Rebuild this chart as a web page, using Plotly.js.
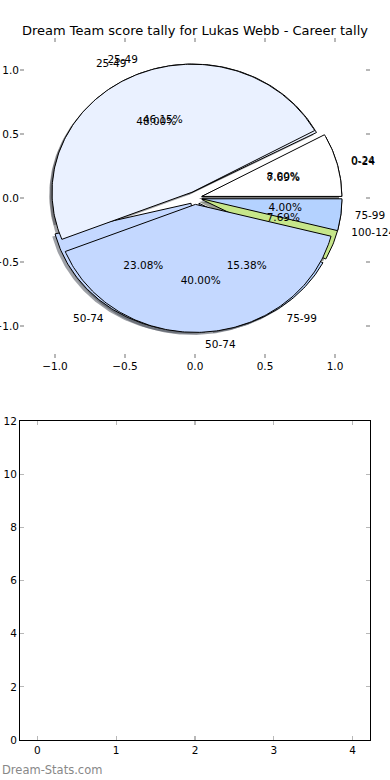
<!DOCTYPE html>
<html>
<head>
<meta charset="utf-8">
<script src="https://cdn.plot.ly/plotly-3.0.1.min.js"></script>
<style>html,body{margin:0;padding:0;background:#fff;}#chart{width:390px;height:780px;}</style>
</head>
<body>
<div id="chart"></div>
<script>
// ---- data ----
const chartTitle = 'Dream Team score tally for Lukas Webb - Career tally';
const categories1 = ['0-24', '25-49', '50-74', '75-99', '100-124'];
const counts1 = [1, 6, 3, 2, 1];
const categories2 = ['0-24', '25-49', '50-74', '75-99'];
const counts2 = [2, 12, 10, 1];
const pieTickVals = [-1.0, -0.5, 0.0, 0.5, 1.0];
const pieTickText = ['\u22121.0', '\u22120.5', '0.0', '0.5', '1.0'];
const barXTicks = [0, 1, 2, 3, 4];
const barYTicks = [0, 2, 4, 6, 8, 10, 12];
const watermark = 'Dream-Stats.com';

// ---- styles ----
const sliceColors = {'0-24': '#ffffff', '25-49': '#eaf1ff', '50-74': '#c4d8ff', '75-99': '#b4d2ff', '100-124': '#c6e68a'};
const explode = 0.05;
const FONT = 'DejaVu Sans, Liberation Sans, sans-serif';

function hexToRgb(h) {
  return [parseInt(h.slice(1, 3), 16), parseInt(h.slice(3, 5), 16), parseInt(h.slice(5, 7), 16)];
}

function buildPie(cats, vals) {
  const total = vals.reduce((a, b) => a + b, 0);
  let start = 0;
  const wedges = [];
  cats.forEach((c, i) => {
    const span = vals[i] / total * 360;
    const a1 = start, a2 = start + span;
    const mid = (a1 + a2) / 2 * Math.PI / 180;
    const cx = explode * Math.cos(mid), cy = explode * Math.sin(mid);
    const xs = [cx], ys = [cy];
    const n = Math.max(2, Math.ceil(span));
    for (let k = 0; k <= n; k++) {
      const a = (a1 + (a2 - a1) * k / n) * Math.PI / 180;
      xs.push(cx + Math.cos(a));
      ys.push(cy + Math.sin(a));
    }
    xs.push(cx); ys.push(cy);
    wedges.push({
      cat: c, xs, ys,
      lx: cx + 1.1 * Math.cos(mid), ly: cy + 1.1 * Math.sin(mid),
      px: cx + 0.6 * Math.cos(mid), py: cy + 0.6 * Math.sin(mid),
      pct: (vals[i] / total * 100).toFixed(2) + '%'
    });
    start = a2;
  });
  return wedges;
}

const pies = [buildPie(categories1, counts1), buildPie(categories2, counts2)];
const traces = [];

// shadows (beneath everything)
pies.forEach(p => p.forEach(w => {
  const rgb = hexToRgb(sliceColors[w.cat]).map(v => Math.round(v * 0.3));
  traces.push({
    type: 'scatter', mode: 'lines', x: w.xs.map(v => v - 0.02), y: w.ys.map(v => v - 0.02),
    fill: 'toself', fillcolor: 'rgba(' + rgb.join(',') + ',0.5)', line: {width: 0, color: 'rgba(0,0,0,0)'},
    hoverinfo: 'skip', showlegend: false, xaxis: 'x', yaxis: 'y'
  });
}));

// wedges
pies.forEach(p => p.forEach(w => {
  traces.push({
    type: 'scatter', mode: 'lines', x: w.xs, y: w.ys,
    fill: 'toself', fillcolor: sliceColors[w.cat], line: {width: 1, color: '#000000'},
    hoverinfo: 'skip', showlegend: false, xaxis: 'x', yaxis: 'y'
  });
}));

// labels & percentages
pies.forEach(p => {
  const left = p.filter(w => w.lx < 0), right = p.filter(w => w.lx >= 0);
  [[left, 'middle left'], [right, 'middle right']].forEach(([arr, pos]) => {
    traces.push({
      type: 'scatter', mode: 'text', x: arr.map(w => w.lx), y: arr.map(w => w.ly),
      text: arr.map(w => w.cat), textposition: pos, cliponaxis: false,
      textfont: {family: FONT, size: 10.5, color: '#000'}, hoverinfo: 'skip', showlegend: false
    });
  });
  traces.push({
    type: 'scatter', mode: 'text', x: p.map(w => w.px), y: p.map(w => w.py),
    text: p.map(w => w.pct), textposition: 'middle center', cliponaxis: false,
    textfont: {family: FONT, size: 10.5, color: '#000'}, hoverinfo: 'skip', showlegend: false
  });
});

// empty lower axes
traces.push({type: 'bar', x: [], y: [], xaxis: 'x2', yaxis: 'y2', showlegend: false});

const xDom = [20 / 390, 370 / 390];
const tickStyle = {ticks: 'inside', ticklen: 4, tickwidth: 1.2, tickcolor: '#b8b8b8', showgrid: false, zeroline: false,
  tickfont: {family: FONT, size: 10.5, color: '#000'}, fixedrange: true};

const layout = {
  width: 390, height: 780, margin: {l: 0, r: 0, t: 0, b: 0},
  paper_bgcolor: '#ffffff', plot_bgcolor: 'rgba(0,0,0,0)', showlegend: false,
  title: {text: chartTitle, x: 0.5, xref: 'paper', xanchor: 'center', y: 1 - 30 / 780, yref: 'paper', yanchor: 'middle',
    font: {family: FONT, size: 13, color: '#000'}},
  xaxis: Object.assign({}, tickStyle, {domain: xDom, range: [-1.25, 1.25], anchor: 'y', tickvals: pieTickVals, ticktext: pieTickText,
    showline: false, mirror: 'ticks'}),
  yaxis: Object.assign({}, tickStyle, {domain: [1 - 358 / 780, 1 - 38 / 780], range: [-1.25, 1.25], anchor: 'x', tickvals: pieTickVals, ticktext: pieTickText,
    showline: false, mirror: 'ticks'}),
  xaxis2: Object.assign({}, tickStyle, {domain: xDom, range: [-0.22, 4.22], anchor: 'y2', tickvals: barXTicks,
    showline: true, linecolor: '#000', linewidth: 1, mirror: 'ticks'}),
  yaxis2: Object.assign({}, tickStyle, {domain: [1 - 740 / 780, 1 - 421 / 780], range: [0, 12], anchor: 'x2', tickvals: barYTicks,
    showline: true, linecolor: '#000', linewidth: 1, mirror: 'ticks'}),
  annotations: [{text: watermark, xref: 'paper', yref: 'paper', x: 0, y: 1 - 770 / 780, xanchor: 'left', yanchor: 'middle',
    showarrow: false, font: {family: FONT, size: 11.5, color: '#888888'}}]
};

Plotly.newPlot('chart', traces, layout, {displayModeBar: false, staticPlot: true});
</script>
</body>
</html>
